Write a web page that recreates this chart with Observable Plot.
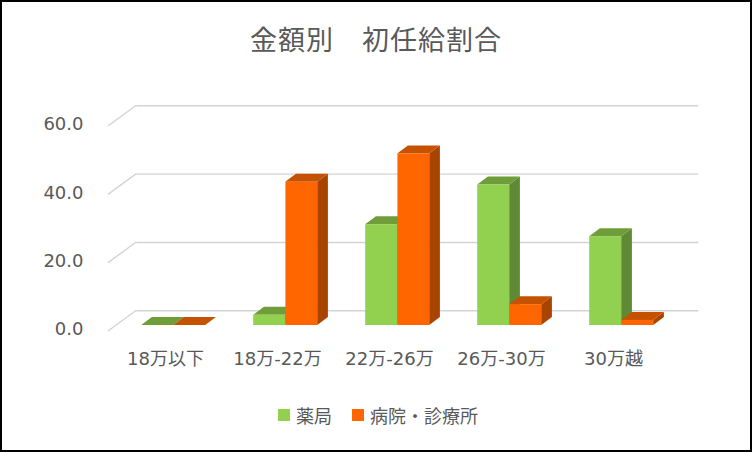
<!DOCTYPE html>
<html><head><meta charset="utf-8">
<script src="https://cdn.jsdelivr.net/npm/d3@7"></script>
<script src="https://cdn.jsdelivr.net/npm/@observablehq/plot@0.6"></script>
<style>
body{margin:0;background:#fff;}
#wrap{position:relative;width:752px;height:452px;background:#fff;overflow:hidden;font-family:"DejaVu Sans","Noto Sans CJK JP",sans-serif;color:#595959;}
#frame{position:absolute;left:0;top:0;width:752px;height:452px;box-sizing:border-box;border:2px solid #000;pointer-events:none;}
#title{height:70px;box-sizing:border-box;padding-top:24px;line-height:30px;font-size:27px;letter-spacing:1px;text-align:center;font-family:"Noto Sans CJK JP",sans-serif;color:#595959;}
#chart svg{display:block;}
#legend{height:50px;display:flex;justify-content:center;align-items:center;font-family:"Noto Sans CJK JP",sans-serif;font-size:18px;color:#595959;padding-left:4px;box-sizing:border-box;}
.item{display:flex;align-items:center;margin:0 10px;}
.sw{width:12px;height:12px;margin-right:6px;}
</style></head>
<body>
<div id="wrap">
  <div id="title"></div>
  <div id="chart"></div>
  <div id="legend"></div>
  <div id="frame"></div>
</div>
<script>
const titleText = "金額別　初任給割合";
const categories = ["18万以下", "18万-22万", "22万-26万", "26万-30万", "30万越"];
const seriesNames = ["薬局", "病院・診療所"];
const pharmacy = [0, 3.0, 29.5, 41.1, 26.0];
const hospital = [0, 41.9, 50.2, 6.1, 1.5];
const yTicks = [0, 20, 40, 60];

const frontColors = ["#92d050", "#ff6600"];
const topColors = ["#6e9d3a", "#c45200"];
const sideColors = ["#5f8a33", "#a84300"];
const gridColor = "#d4d4d4";

const rows = categories.flatMap((c, i) => [
  {cat: c, s: 0, series: seriesNames[0], value: pharmacy[i]},
  {cat: c, s: 1, series: seriesNames[1], value: hospital[i]}
]);

const W = 752, H = 320, ML = 108, MR = 82, MT = 56, MB = 59;
const depth = [28.3, -20.7];   // floor depth
const off = [8.2, -6.0];       // bar front plane offset
const bd = [10.7, -8.0];       // bar depth
const halfBand = (W - ML - MR) / categories.length * 0.573 / 2;

function faces(s) {
  return (index, scales) => {
    const x = scales.x, y = scales.y;
    const bw = x.bandwidth ? x.bandwidth() : halfBand * 2;
    const g = d3.create("svg:g");
    rows.filter(r => r.s === s).forEach(r => {
      const x0 = x(r.cat) + s * bw / 2 + off[0];
      const x1 = x0 + bw / 2;
      const yt = y(r.value) + off[1];
      const yb = y(0) + off[1];
      g.append("polygon")
        .attr("points", [[x1, yb], [x1 + bd[0], yb + bd[1]], [x1 + bd[0], yt + bd[1]], [x1, yt]].join(" "))
        .attr("fill", sideColors[s]);
      g.append("polygon")
        .attr("points", [[x0, yt], [x1, yt], [x1 + bd[0], yt + bd[1]], [x0 + bd[0], yt + bd[1]]].join(" "))
        .attr("fill", topColors[s]);
    });
    return g.node();
  };
}

function diagonals(index, scales) {
  const y = scales.y, x = scales.x;
  const x0 = x.range()[0];
  const g = d3.create("svg:g");
  yTicks.forEach(t => {
    g.append("line")
      .attr("x1", x0).attr("y1", y(t))
      .attr("x2", x0 + depth[0]).attr("y2", y(t) + depth[1])
      .attr("stroke", gridColor).attr("stroke-width", 1.4);
  });
  return g.node();
}

const chart = Plot.plot({
  width: W, height: H,
  marginLeft: ML, marginRight: MR, marginTop: MT, marginBottom: MB,
  style: {fontFamily: '"DejaVu Sans","Noto Sans CJK JP",sans-serif', fontSize: "18px", color: "#595959", background: "transparent"},
  x: {domain: categories, paddingInner: 0.427, paddingOuter: 0.2135, axis: null},
  y: {domain: [0, 60], axis: null},
  marks: [
    Plot.ruleY(yTicks, {dx: depth[0], dy: depth[1], stroke: gridColor, strokeWidth: 1.4}),
    diagonals,
    faces(0),
    Plot.barY(rows.filter(r => r.s === 0), {x: "cat", y: "value", fill: frontColors[0], insetRight: halfBand, dx: off[0], dy: off[1]}),
    faces(1),
    Plot.barY(rows.filter(r => r.s === 1), {x: "cat", y: "value", fill: frontColors[1], insetLeft: halfBand, dx: off[0], dy: off[1]}),
    Plot.axisY(yTicks, {tickFormat: d => d.toFixed(1), tickSize: 0, tickPadding: 25, dy: -2, fontSize: 18, label: null}),
    Plot.axisX({tickSize: 0, tickPadding: 21, fontSize: 18, label: null})
  ]
});
document.getElementById("chart").appendChild(chart);
document.getElementById("title").textContent = titleText;
const legend = document.getElementById("legend");
seriesNames.forEach((n, i) => {
  const it = document.createElement("div"); it.className = "item";
  const sw = document.createElement("div"); sw.className = "sw"; sw.style.background = frontColors[i];
  const tx = document.createElement("span"); tx.textContent = n;
  it.appendChild(sw); it.appendChild(tx); legend.appendChild(it);
});
</script>
</body></html>
